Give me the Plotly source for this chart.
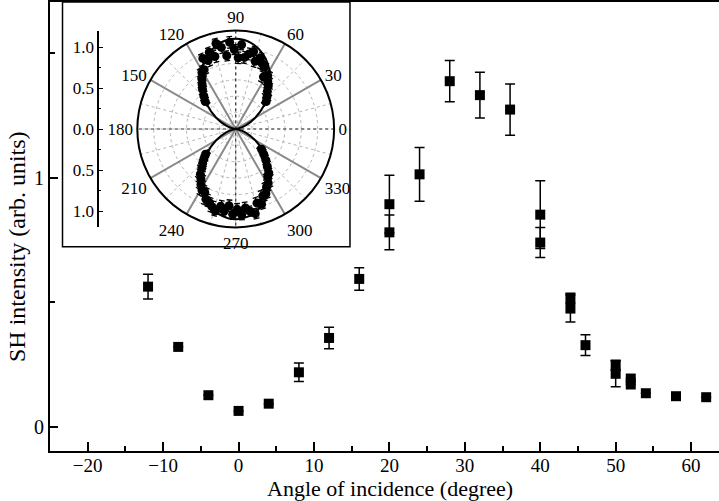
import math
import plotly.graph_objects as go

# ---------------- main data ----------------
angle_inc = [-12, -8, -4, 0, 4, 8, 12, 16, 20, 20, 24, 28, 32, 36, 40, 40, 44, 44, 46, 50, 50, 52, 52, 54, 58, 62]
sh_int = [0.562, 0.32, 0.126, 0.063, 0.092, 0.218, 0.356, 0.593, 0.893, 0.78, 1.013, 1.387, 1.331, 1.273,
          0.851, 0.739, 0.515, 0.474, 0.327, 0.246, 0.212, 0.193, 0.169, 0.134, 0.122, 0.118]
sh_err = [0.05, 0.0, 0.0, 0.0, 0.0, 0.037, 0.043, 0.045, 0.116, 0.07, 0.108, 0.083, 0.092, 0.103,
          0.136, 0.06, 0.02, 0.054, 0.042, 0.02, 0.052, 0.0, 0.0, 0.0, 0.0, 0.0]

# ---------------- inset (polar) data ----------------
pol_theta = [42, 46, 50, 53, 56, 59, 62, 65, 68, 71, 74, 77, 80, 83, 86, 88, 91, 94, 97, 100, 103, 106,
             109, 112, 115, 118, 121, 124, 127, 130, 134, 138,
             220, 223, 226, 229, 232, 235, 238, 241, 244, 247, 250, 253, 256, 259, 262, 265, 268, 271,
             274, 277, 280, 283, 286, 289, 292, 295, 298, 301, 304, 307, 310, 314, 318, 322]
pol_r = [0.50, 0.55, 0.60, 0.66, 0.70, 0.76, 0.72, 0.83, 0.86, 0.92, 0.86, 0.97, 0.93, 0.88, 1.03, 0.87,
         0.97, 1.06, 0.90, 1.01, 1.07, 0.92, 0.99, 0.90, 0.95, 0.82, 0.80, 0.74, 0.68, 0.63, 0.56, 0.50,
         0.48, 0.53, 0.58, 0.63, 0.70, 0.74, 0.80, 0.85, 0.86, 0.93, 0.95, 0.99, 1.03, 0.96, 1.01, 0.94,
         1.04, 0.98, 1.05, 0.97, 1.02, 1.06, 0.94, 0.97, 0.88, 0.87, 0.80, 0.77, 0.70, 0.67, 0.60, 0.53,
         0.46, 0.40]
pol_err = [0.05, 0.05, 0.06, 0.05, 0.06, 0.06, 0.07, 0.06, 0.07, 0.06, 0.07, 0.06, 0.07, 0.07, 0.06, 0.07,
           0.06, 0.07, 0.06, 0.07, 0.06, 0.07, 0.06, 0.07, 0.06, 0.06, 0.06, 0.05, 0.05, 0.05, 0.05, 0.05,
           0.05, 0.05, 0.06, 0.05, 0.06, 0.06, 0.06, 0.07, 0.06, 0.07, 0.06, 0.07, 0.06, 0.07, 0.06, 0.07,
           0.06, 0.07, 0.06, 0.07, 0.06, 0.06, 0.07, 0.06, 0.07, 0.06, 0.06, 0.06, 0.05, 0.05, 0.05, 0.05,
           0.05, 0.05]
fit_theta = [0, 10, 20, 30, 40, 50, 60, 70, 80, 90, 100, 110, 120, 130, 140, 150, 160, 170, 180,
             190, 200, 210, 220, 230, 240, 250, 260, 270, 280, 290, 300, 310, 320, 330, 340, 350, 360]
fit_r = [0.0, 0.033, 0.129, 0.275, 0.454, 0.646, 0.825, 0.971, 1.067, 1.10, 1.067, 0.971, 0.825, 0.646,
         0.454, 0.275, 0.129, 0.033, 0.0,
         0.033, 0.129, 0.275, 0.454, 0.646, 0.825, 0.971, 1.067, 1.10, 1.067, 0.971, 0.825, 0.646,
         0.454, 0.275, 0.129, 0.033, 0.0]
ang_tick_vals = list(range(0, 360, 15))
ang_tick_text = [str(a) if a % 30 == 0 else "" for a in ang_tick_vals]
solid_spokes = [30, 60, 120, 150]
dashed_spokes = [0, 90]
radial_grid = [0.2, 0.4, 0.6, 0.8, 1.0]
R_MAX = 1.2
scale_vals = [-1, -0.5, 0, 0.5, 1]
scale_text = ["1.0", "0.5", "0.0", "0.5", "1.0"]

FONT = "Liberation Serif"

fig = go.Figure()

# main series
fig.add_trace(go.Scatter(
    x=angle_inc, y=sh_int, mode="markers",
    marker=dict(symbol="square", size=10, color="black"),
    error_y=dict(type="data", array=sh_err, visible=True, color="black", thickness=1.5, width=5),
    showlegend=False, hoverinfo="x+y"))

# polar spokes
for a in solid_spokes:
    fig.add_trace(go.Scatterpolar(r=[R_MAX, 0, R_MAX], theta=[a, a, a + 180], mode="lines",
                                  line=dict(color="#8a8a8a", width=2), showlegend=False,
                                  hoverinfo="skip", subplot="polar"))
for a in dashed_spokes:
    fig.add_trace(go.Scatterpolar(r=[R_MAX, 0, R_MAX], theta=[a, a, a + 180], mode="lines",
                                  line=dict(color="#333333", width=1.2, dash="dot"), showlegend=False,
                                  hoverinfo="skip", subplot="polar"))

# fit curve
fig.add_trace(go.Scatterpolar(r=fit_r, theta=fit_theta, mode="lines",
                              line=dict(color="black", width=2, shape="spline"),
                              showlegend=False, hoverinfo="skip", subplot="polar"))

# radial error bars with caps
eb_r, eb_t = [], []
for t, r, e in zip(pol_theta, pol_r, pol_err):
    eb_r += [r - e, r + e, None]
    eb_t += [t, t, None]
    for re_ in (r - e, r + e):
        d = math.degrees(0.035 / re_)
        eb_r += [re_, re_, None]
        eb_t += [t - d, t + d, None]
fig.add_trace(go.Scatterpolar(r=eb_r, theta=eb_t, mode="lines",
                              line=dict(color="black", width=1.3), showlegend=False,
                              hoverinfo="skip", subplot="polar", connectgaps=False))
fig.add_trace(go.Scatterpolar(r=pol_r, theta=pol_theta, mode="markers",
                              marker=dict(color="black", size=9), showlegend=False, subplot="polar"))

# dummy trace for inset scale axis
fig.add_trace(go.Scatter(x=[0], y=[0], xaxis="x2", yaxis="y2", mode="markers",
                         marker=dict(opacity=0), showlegend=False, hoverinfo="skip"))

fig.update_layout(
    width=719, height=501,
    margin=dict(l=50, r=0, t=2, b=50),
    paper_bgcolor="white", plot_bgcolor="white",
    font=dict(family=FONT, color="black"),
    xaxis=dict(range=[-25, 63.7], showline=True, linecolor="black", linewidth=2, mirror=True,
               ticks="inside", ticklen=9, tickwidth=1.5, tickcolor="black",
               tick0=0, dtick=10, minor=dict(ticks="inside", ticklen=5, tickwidth=1.5,
                                             tickcolor="black", dtick=5),
               ticklabelstandoff=-4,
               showgrid=False, zeroline=False, tickfont=dict(size=19, family=FONT)),
    yaxis=dict(range=[-0.098, 1.705], showline=True, linecolor="black", linewidth=2, mirror=False,
               ticks="inside", ticklen=8, tickwidth=1.5, tickcolor="black",
               tickvals=[0, 1], minor=dict(ticks="inside", ticklen=5, tickwidth=1.5,
                                          tickcolor="black", dtick=0.5),
               showgrid=False, zeroline=False, tickfont=dict(size=20, family=FONT)),
    xaxis2=dict(domain=[0.0737, 0.09], anchor="y2", visible=False, range=[0, 1]),
    yaxis2=dict(domain=[0.498, 0.9363], anchor="x2", range=[-R_MAX, R_MAX], showline=True,
                linecolor="black", linewidth=2, ticks="inside", ticklen=4, tickwidth=1.2,
                tickcolor="black", tickvals=scale_vals, ticktext=scale_text,
                minor=dict(ticks="inside", ticklen=2, tickwidth=1, tickcolor="black", dtick=0.25),
                showgrid=False, zeroline=False, tickfont=dict(size=17, family=FONT)),
    polar=dict(
        domain=dict(x=[0.1305, 0.4247], y=[0.498, 0.9363]),
        bgcolor="white",
        radialaxis=dict(range=[0, R_MAX], tickvals=radial_grid, showticklabels=False, ticks="",
                        showline=False, gridcolor="#b5b5b5", gridwidth=1, griddash="dot"),
        angularaxis=dict(direction="counterclockwise", rotation=0, tickvals=ang_tick_vals,
                         ticktext=ang_tick_text, ticks="", showline=True, linecolor="black",
                         linewidth=2, gridcolor="#b5b5b5", gridwidth=1, griddash="dot",
                         tickfont=dict(size=17, family=FONT)),
    ),
    shapes=[dict(type="rect", xref="paper", yref="paper", x0=0.0187, x1=0.4484, y0=0.455, y1=1.0,
                 line=dict(color="black", width=1.5), fillcolor="rgba(0,0,0,0)", layer="above")],
    annotations=[
        dict(text="Angle of incidence (degree)", xref="paper", yref="paper", x=0.508, y=-0.0835,
             xanchor="center", yanchor="middle", showarrow=False, font=dict(size=22, family=FONT)),
        dict(text="SH intensity (arb. units)", xref="paper", yref="paper", x=-0.0493, y=0.4543,
             xanchor="center", yanchor="middle", textangle=-90, showarrow=False,
             font=dict(size=24, family=FONT)),
    ],
)

fig.write_html("out.html", config={"displayModeBar": False},
               post_script="document.body.style.margin='0';document.body.style.padding='0';")
